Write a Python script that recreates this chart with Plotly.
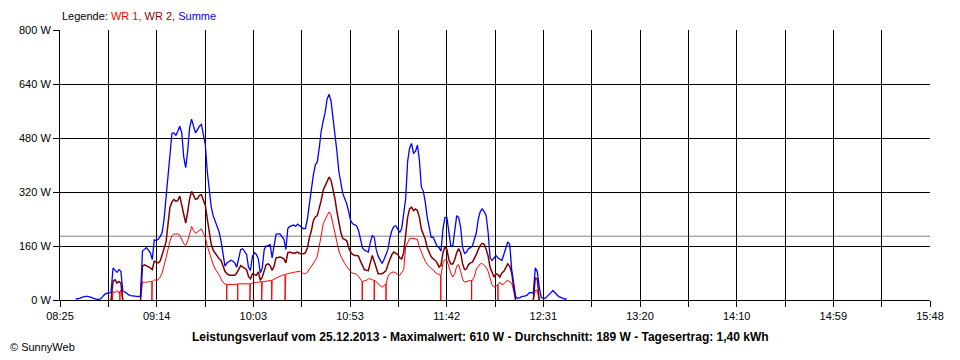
import numpy as np
import plotly.graph_objects as go

# ---------------- data ----------------
N = None
start_time = "08:33"          # first sample, one sample per minute
summe_w = [
    3, 3, 5, 8, 10, 11, 11, 10, 8, 5,
    3, 2, 2, 5, 12, 18, 20, 21, 22, 95,
    88, 82, 90, 85, 25, 24, 20, 15, 13, 12,
    13, 12, 10, 12, 145, 150, 155, 148, 140, 120,
    178, 176, 180, 188, 200, 240, 300, 360, 440, 494,
    495, 488, 500, 515, 495, 424, 392, 440, 510, 536,
    515, 495, 505, 515, 520, 494, 460, 380, 315, 275,
    250, 232, 220, 202, 175, 130, 100, 110, 115, 118,
    115, 110, 97, 125, 150, 152, 145, 135, 97, 88,
    130, 140, 135, 122, 80, 95, 150, 160, 160, 165,
    125, 155, 195, 196, 196, 188, 180, 150, 212, 218,
    220, 222, 218, 225, 220, 215, 211, 212, 240, 285,
    330, 370, 400, 409, 450, 500, 530, 555, 595, 610,
    590, 545, 493, 440, 380, 345, 315, 300, 285, 262,
    235, 226, 224, 220, 206, 175, 155, 148, 145, 142,
    170, 191, 186, 150, 130, 120, 108, 120, 135, 150,
    185, 206, 218, 220, 210, 200, 212, 250, 300, 410,
    450, 464, 435, 440, 459, 414, 335, 322, 290, 245,
    210, 186, 186, 170, 160, 155, 145, 210, 245, 245,
    200, 160, 160, 200, 250, 245, 216, 155, 138, 142,
    152, 155, 160, 180, 200, 240, 262, 270, 262, 250,
    200, 125, 117, 125, 132, 125, 120, 117, 135, 155,
    172, 165, 90, 50, 10, 5, 6, 10, 10, 12,
    15, 22, 22, 20, 95, 85, 40, 8, 5, 5,
    10, 15, 22, 28, 22, 13, 10, 8, 5, 3,
    3,
]
wr2_w = (
    [N] * 18 + [0] + [55, 60, 50, 55, 50] + [0] + [N] * 8 + [0] + [
        100, 104, 100, 98, 95, 90, 115, 112, 110, 115,
        135, 150, 172, 225, 275, 290, 298, 292, 295, 308,
        280, 250, 228, 260, 300, 322, 308, 298, 300, 310,
        312, 296, 280, 240, 200, 165, 148, 138, 130, 122,
        117, 100, 85, 78, 74, 73, 72, 73, 80, 92,
        102, 98, 94, 90, 70, 63, 78, 75, 73, 83,
        58, 68, 90, 105, 107, 102, 88, 100, 125, 127,
        127, 125, 122, 110, 140, 142, 140, 138, 140, 142,
        138, 137, 137, 140, 155, 185, 205, 235, 246, 250,
        270, 295, 325, 340, 355, 364, 355, 330, 300, 262,
        230, 200, 182, 178, 176, 155, 142, 135, 132, 132,
        130, 115, 100, 90, 88, 87, 110, 132, 115, 95,
        78, 78, 78, 82, 87, 105, 122, 135, 142, 138,
        135, 125, 122, 140, 190, 245, 270, 275, 265, 270,
        265, 245, 210, 195, 180, 155, 140, 128, 122, 118,
        110, 98, 103, 140, 157, 150, 120, 107, 107, 120,
        140, 152, 140, 107, 90, 92, 105, 110, 112, 122,
        135, 150, 162, 168, 165, 150, 130, 97, 80, 68,
        78, 75, 68, 80, 85, 97, 107, 100, 80, 38,
    ] + [0] + [N] * 8 + [0] + [65, 63] + [0] + [N] * 14
)
wr1_w = (
    [N] * 18 + [0] + [25, 22, 28, 20, 30] + [0] + [N] * 8 + [0] + [
        53, 53, 52, 54, 55, 55, 60, 58, 60, 68,
        80, 100, 125, 150, 175, 190, 196, 195, 196, 192,
        180, 167, 162, 175, 195, 218, 206, 198, 202, 208,
        211, 198, 185, 160, 140, 118, 105, 92, 85, 75,
        62, 52, 48, 46, 46, 45, 46, 46, 47, 48,
        48, 48, 48, 48, 48, 48, 50, 50, 52, 53,
        53, 55, 55, 56, 57, 58, 58, 62, 65, 68,
        72, 73, 75, 76, 78, 80, 80, 82, 83, 84,
        85, 82, 78, 78, 82, 92, 100, 110, 117, 130,
        157, 190, 226, 236, 250, 261, 252, 225, 196, 165,
        145, 130, 118, 108, 100, 90, 84, 80, 78, 76,
        70, 60, 54, 57, 58, 62, 63, 60, 58, 55,
        48, 42, 38, 42, 48, 70, 78, 82, 83, 80,
        75, 73, 80, 90, 157, 170, 182, 183, 182, 183,
        180, 157, 140, 128, 115, 105, 100, 93, 90, 82,
        78, 75, 73, 110, 120, 118, 97, 80, 68, 78,
        100, 105, 85, 62, 53, 55, 58, 58, 58, 70,
        92, 100, 107, 108, 102, 97, 85, 68, 45, 38,
        43, 45, 53, 45, 48, 55, 58, 55, 50, 28,
    ] + [0] + [N] * 8 + [0] + [28, 28] + [0] + [N] * 14
)
# short drop-outs of WR 1 to 0 W
wr1_dropouts = ["08:51:36", "08:55:30", "09:11:48", "09:49:54", "09:55:30",
                "10:01:42", "10:07:42", "10:12:48", "10:19:36", "10:58:54",
                "11:05:00", "11:11:00", "11:38:54", "11:54:36", "12:08:00"]
average_w = 189

x_labels = ["08:25", "09:14", "10:03", "10:53", "11:42",
            "12:31", "13:20", "14:10", "14:59", "15:48"]
y_values = [0, 160, 320, 480, 640, 800]
y_labels = ["0 W", "160 W", "320 W", "480 W", "640 W", "800 W"]
legend_names = ["WR 1", "WR 2", "Summe"]
colors = ["#ff0000", "#800000", "#0000ff"]
title_text = ("Leistungsverlauf vom 25.12.2013 - Maximalwert: 610 W - "
              "Durchschnitt: 189 W - Tagesertrag: 1,40 kWh")


def to_min(s):
    p = [int(v) for v in s.split(":")]
    return p[0] * 60 + p[1] + (p[2] / 60 if len(p) > 2 else 0)


t0 = to_min(start_time)
times = [t0 + i for i in range(len(summe_w))]

# merge drop-outs into WR 1 as narrow vertical spikes
valid_t = [t for t, v in zip(times, wr1_w) if v is not None]
valid_v = [v for v in wr1_w if v is not None]
pts = list(zip(times, wr1_w))
eps = 0.04
for d in wr1_dropouts:
    td = to_min(d)
    lvl = float(np.interp(td, valid_t, valid_v))
    pts += [(td - eps, lvl), (td, 0), (td + eps, lvl)]
pts.sort(key=lambda p: p[0])
wr1_t = [p[0] for p in pts]
wr1_v = [p[1] for p in pts]

x_first = to_min(x_labels[0])
x_last = to_min(x_labels[-1])
span = x_last - x_first
major_vals = [x_first + span * i / (len(x_labels) - 1) for i in range(len(x_labels))]

FONT = "Liberation Sans"
PH = 270  # plot height in px
PW = 870  # plot width in px

fig = go.Figure()
fig.add_trace(go.Scatter(x=wr1_t, y=wr1_v, mode="lines", name=legend_names[0],
                         line=dict(color=colors[0], width=1), connectgaps=False))
fig.add_trace(go.Scatter(x=times, y=wr2_w, mode="lines", name=legend_names[1],
                         line=dict(color=colors[1], width=1.5), connectgaps=False))
fig.add_trace(go.Scatter(x=times, y=summe_w, mode="lines", name=legend_names[2],
                         line=dict(color=colors[2], width=1.3)))
fig.add_hline(y=average_w, line=dict(color="#808080", width=1), layer="below")

# the page body has an 8 px margin, so the figure is shifted up/left by 8 px
fig.update_layout(
    width=960, height=360,
    margin=dict(l=52, r=38, t=22, b=68, autoexpand=False),
    paper_bgcolor="white", plot_bgcolor="white",
    showlegend=False,
    font=dict(family=FONT, size=11, color="black"),
    xaxis=dict(
        range=[x_first, x_last], automargin=False,
        tickmode="array", tickvals=major_vals, ticktext=x_labels,
        showgrid=True, gridcolor="black", gridwidth=1,
        ticks="outside", ticklen=6, tickcolor="black",
        showline=True, linecolor="black", linewidth=1,
        zeroline=False,
        minor=dict(tick0=x_first, dtick=span / 18, showgrid=True,
                   gridcolor="black", gridwidth=1,
                   ticks="outside", ticklen=6, tickcolor="black"),
        tickfont=dict(family=FONT, size=11),
    ),
    yaxis=dict(
        range=[0, 800], automargin=False,
        tickmode="array", tickvals=y_values, ticktext=y_labels,
        showgrid=True, gridcolor="black", gridwidth=1,
        ticks="outside", ticklen=6, tickcolor="black",
        showline=True, linecolor="black", linewidth=1,
        zeroline=False,
        tickfont=dict(family=FONT, size=11),
    ),
)

legend_html = ("Legende: "
               f"<span style='color:{colors[0]}'>{legend_names[0]},</span> "
               f"<span style='color:{colors[1]}'>{legend_names[1]},</span> "
               f"<span style='color:{colors[2]}'>{legend_names[2]}</span>")
fig.add_annotation(text=legend_html, xref="paper", yref="paper",
                   x=0, y=(300 - 16) / PH, xanchor="left", yanchor="middle",
                   showarrow=False, font=dict(family=FONT, size=11, color="black"))
fig.add_annotation(text="<b>" + title_text + "</b>", xref="paper", yref="paper",
                   x=(480 - 60) / PW, y=(300 - 337) / PH,
                   xanchor="center", yanchor="middle", showarrow=False,
                   font=dict(family=FONT, size=12, color="black"))
fig.add_annotation(text="© SunnyWeb", xref="paper", yref="paper",
                   x=(8 - 60) / PW, y=(300 - 347) / PH,
                   xanchor="left", yanchor="middle", showarrow=False,
                   font=dict(family=FONT, size=11, color="black"))

fig.write_html("out.html")
